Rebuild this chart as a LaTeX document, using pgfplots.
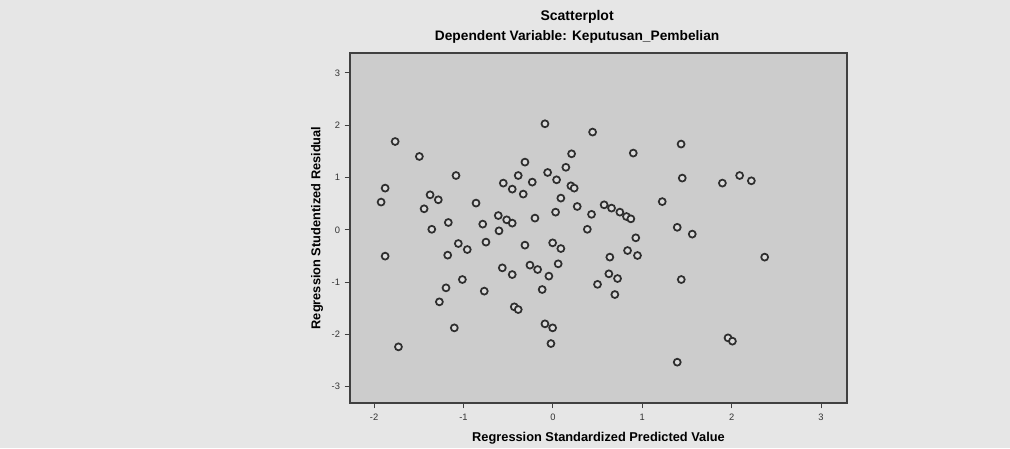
\documentclass[border=0pt]{standalone}
\usepackage{pgfplots}
\pgfplotsset{compat=1.18}
\usepackage{fontspec}
\setmainfont{Liberation Sans}
\definecolor{pagebg}{HTML}{E6E6E6}
\definecolor{plotbg}{HTML}{CCCCCC}
\definecolor{markc}{HTML}{2E2E2E}
\definecolor{framec}{HTML}{404040}
\pgfplotstableread{
x y
-1.765 1.688
-1.494 1.402
-1.084 1.038
-1.877 0.797
-1.922 0.530
-1.374 0.669
-1.282 0.574
-1.441 0.402
-0.860 0.511
-1.170 0.140
-0.785 0.109
-1.355 0.010
-0.611 0.273
-0.517 0.191
-0.455 0.128
-0.603 -0.019
-0.555 0.893
-0.455 0.778
-0.388 1.038
-0.089 2.027
0.444 1.868
1.434 1.639
0.209 1.453
0.899 1.467
-0.313 1.294
0.145 1.195
-0.059 1.096
0.041 0.956
-0.231 0.912
0.201 0.841
0.238 0.797
-0.332 0.683
0.089 0.606
0.272 0.446
0.573 0.478
0.656 0.415
0.749 0.338
0.823 0.254
0.872 0.210
0.030 0.338
0.432 0.296
-0.201 0.224
0.385 0.010
1.447 0.989
1.223 0.539
1.391 0.048
2.089 1.038
1.896 0.893
2.220 0.937
1.559 -0.082
0.927 -0.153
-1.877 -0.503
-1.058 -0.262
-0.958 -0.377
-0.749 -0.235
-1.177 -0.484
-0.566 -0.727
-0.455 -0.855
-1.013 -0.950
-1.196 -1.109
-0.768 -1.172
-1.270 -1.377
-0.432 -1.472
-0.388 -1.524
-1.103 -1.874
-1.728 -2.237
-0.313 -0.293
-0.003 -0.249
0.089 -0.358
0.835 -0.396
0.946 -0.491
0.637 -0.522
-0.257 -0.675
-0.171 -0.759
0.059 -0.650
-0.045 -0.885
0.626 -0.841
0.723 -0.931
0.499 -1.042
-0.120 -1.141
0.693 -1.237
-0.089 -1.797
-0.003 -1.874
-0.022 -2.174
1.436 -0.950
1.391 -2.530
2.369 -0.522
1.959 -2.065
2.008 -2.128
}\resid
\begin{document}
\begin{tikzpicture}
\fill[pagebg] (-262.5pt,-33.75pt) rectangle (495pt,302.25pt);
\begin{axis}[
  at={(0,0)}, anchor=south west,
  scale only axis,
  width=372.75pt, height=262.5pt,
  xmin=-2.27, xmax=3.29,
  ymin=-3.31, ymax=3.38,
  xtick={-2,-1,0,1,2,3},
  ytick={-3,-2,-1,0,1,2,3},
  tick pos=left,
  tick align=outside,
  major tick length=4pt,
  tick style={framec, line width=0.8pt},
  axis line style={framec, line width=1.6pt},
  axis background/.style={fill=plotbg},
  /pgf/number format/assume math mode=true,
  ticklabel style={font=\fontsize{7}{8}\selectfont, text=black!80},
  xticklabel style={yshift=-1pt},
  xlabel={Regression Standardized Predicted Value},
  ylabel={Regression Studentized Residual},
  label style={font=\fontsize{9.6}{11}\selectfont\bfseries, text=black},
  xlabel style={at={(axis description cs:0.5,-0.1)}, anchor=center},
  ylabel style={at={(axis description cs:-0.066,0.5)}, anchor=center},
  clip=false,
]
\addplot[only marks, mark=*, mark size=2.6pt,
  mark options={draw=markc, fill=plotbg!70!white, line width=1.3pt}]
  table[x=x, y=y] {\resid};
\node[font=\fontsize{10.5}{12}\selectfont\bfseries, text=black, anchor=center]
  at (axis description cs:0.457,1) [yshift=27pt] {Scatterplot};
\node[font=\fontsize{10.3}{12}\selectfont\bfseries, text=black, anchor=center]
  at (axis description cs:0.457,1) [yshift=12pt] {Dependent Variable: Keputusan\_Pembelian};
\end{axis}
\end{tikzpicture}
\end{document}
